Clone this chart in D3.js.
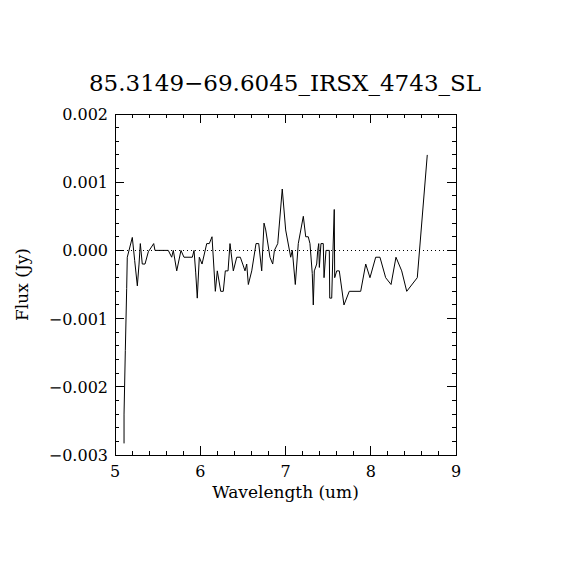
<!DOCTYPE html>
<html>
<head>
<meta charset="utf-8">
<script src="https://cdn.jsdelivr.net/npm/d3@7"></script>
<style>
  body { margin: 0; background: #fff; }
  text { font-family: "DejaVu Serif", "Liberation Serif", serif; fill: #000; }
</style>
</head>
<body>
<script>
// spectrum
var wavelength = [5.106, 5.106, 5.121, 5.137, 5.144, 5.203, 5.231, 5.262, 5.282, 5.297,
  5.320, 5.352, 5.391, 5.454, 5.469, 5.625, 5.665, 5.684, 5.724, 5.774,
  5.809, 5.907, 5.927, 5.947, 5.965, 5.989, 6.021, 6.076, 6.106, 6.138,
  6.177, 6.200, 6.240, 6.270, 6.294, 6.326, 6.349, 6.388, 6.428, 6.470,
  6.498, 6.525, 6.545, 6.564, 6.604, 6.654, 6.686, 6.721, 6.748, 6.768,
  6.818, 6.850, 6.870, 6.909, 6.962, 7.002, 7.061, 7.080, 7.115, 7.150,
  7.209, 7.237, 7.267, 7.287, 7.314, 7.326, 7.338, 7.366, 7.378, 7.390,
  7.397, 7.416, 7.443, 7.452, 7.475, 7.514, 7.519, 7.542, 7.557, 7.572,
  7.577, 7.601, 7.631, 7.686, 7.748, 7.882, 7.941, 7.991, 8.058, 8.108,
  8.175, 8.238, 8.296, 8.363, 8.422, 8.546, 8.663];
var flux = [-0.00283, -0.00240, -0.00147, -0.00056, -0.00010, 0.00019, -0.00015, -0.00052, -0.00020, 0.00010,
  -0.00020, -0.00020, -0.00002, 0.00010, 0.00000, 0.00000, -0.00010, 0.00000, -0.00030, 0.00000,
  -0.00010, -0.00010, 0.00000, -0.00033, -0.00070, -0.00010, -0.00020, 0.00010, 0.00010, 0.00020,
  -0.00060, -0.00030, -0.00060, -0.00060, -0.00030, -0.00030, 0.00010, -0.00030, -0.00010, -0.00010,
  -0.00020, -0.00030, -0.00020, -0.00050, -0.00030, 0.00010, 0.00010, -0.00030, 0.00040, 0.00030,
  -0.00010, -0.00020, 0.00000, 0.00010, 0.00090, 0.00030, -0.00010, 0.00000, -0.00050, 0.00010,
  0.00050, 0.00020, 0.00020, 0.00010, -0.00034, -0.00080, -0.00030, -0.00020, 0.00000, 0.00010,
  -0.00025, 0.00010, 0.00010, -0.00040, 0.00000, 0.00000, -0.00070, -0.00070, 0.00000, 0.00060,
  -0.00040, -0.00030, -0.00030, -0.00080, -0.00060, -0.00060, -0.00020, -0.00040, -0.00010, -0.00010,
  -0.00040, -0.00050, -0.00010, -0.00030, -0.00060, -0.00040, 0.00140];

var xTicks = [5, 6, 7, 8, 9];
var yTicks = [-0.003, -0.002, -0.001, 0.000, 0.001, 0.002];
var title = "85.3149\u221269.6045_IRSX_4743_SL";

var W = 570, H = 570;
var pLeft = 115, pRight = 456, pTop = 114, pBottom = 455;

var svg = d3.select("body").append("svg")
    .attr("width", W)
    .attr("height", H);

var x = d3.scaleLinear().domain([5, 9]).range([pLeft, pRight]);
var y = d3.scaleLinear().domain([-0.003, 0.002]).range([pBottom, pTop]);

var fmtY = function(d) { return d3.format(".3f")(d).replace("-", "\u2212").replace("\u2212", "\u2212"); };

// minor ticks every 0.2 um and 0.0002 Jy
var xMinor = d3.range(0, 21).map(function(i) { return 5 + i * 0.2; });
var yMinor = d3.range(0, 26).map(function(i) { return -0.003 + i * 0.0002; });

var g = svg.append("g").attr("stroke", "#000").attr("stroke-width", 1)
    .attr("shape-rendering", "crispEdges");

xMinor.forEach(function(v, i) {
  var len = (i % 5 == 0) ? 9 : 4;
  g.append("line").attr("x1", x(v)).attr("x2", x(v)).attr("y1", pBottom).attr("y2", pBottom - len);
  g.append("line").attr("x1", x(v)).attr("x2", x(v)).attr("y1", pTop).attr("y2", pTop + len);
});
yMinor.forEach(function(v, i) {
  var len = (i % 5 == 0) ? 9 : 4;
  g.append("line").attr("y1", y(v)).attr("y2", y(v)).attr("x1", pLeft).attr("x2", pLeft + len);
  g.append("line").attr("y1", y(v)).attr("y2", y(v)).attr("x1", pRight).attr("x2", pRight - len);
});

g.append("rect")
    .attr("x", pLeft).attr("y", pTop)
    .attr("width", pRight - pLeft).attr("height", pBottom - pTop)
    .attr("fill", "none");

// zero line
svg.append("line")
    .attr("x1", pLeft).attr("x2", pRight)
    .attr("y1", Math.round(y(0)) + 0.5).attr("y2", Math.round(y(0)) + 0.5)
    .attr("stroke", "#000")
    .attr("stroke-dasharray", "1,3");

// labels
svg.selectAll(".xl").data(xTicks).enter().append("text")
    .attr("x", function(d) { return x(d); })
    .attr("y", 477)
    .attr("text-anchor", "middle")
    .attr("font-size", "16px")
    .text(function(d) { return d; });

svg.selectAll(".yl").data(yTicks).enter().append("text")
    .attr("x", 108)
    .attr("y", function(d) { return y(d) + 6; })
    .attr("text-anchor", "end")
    .attr("font-size", "16px")
    .text(fmtY);

svg.append("text")
    .attr("x", (pLeft + pRight) / 2)
    .attr("y", 498)
    .attr("text-anchor", "middle")
    .attr("font-size", "17px")
    .text("Wavelength (um)");

svg.append("text")
    .attr("transform", "translate(28," + ((pTop + pBottom) / 2) + ") rotate(-90)")
    .attr("text-anchor", "middle")
    .attr("font-size", "17px")
    .text("Flux (Jy)");

svg.append("text")
    .attr("x", 285)
    .attr("y", 91)
    .attr("text-anchor", "middle")
    .attr("font-size", "23px")
    .text(title);

// spectrum
var pts = wavelength.map(function(w, i) { return [w, flux[i]]; });
svg.append("path")
    .datum(pts)
    .attr("fill", "none")
    .attr("stroke", "#000")
    .attr("stroke-width", 1)
    .attr("d", d3.line().x(function(d) { return x(d[0]); }).y(function(d) { return y(d[1]); }));
</script>
</body>
</html>
